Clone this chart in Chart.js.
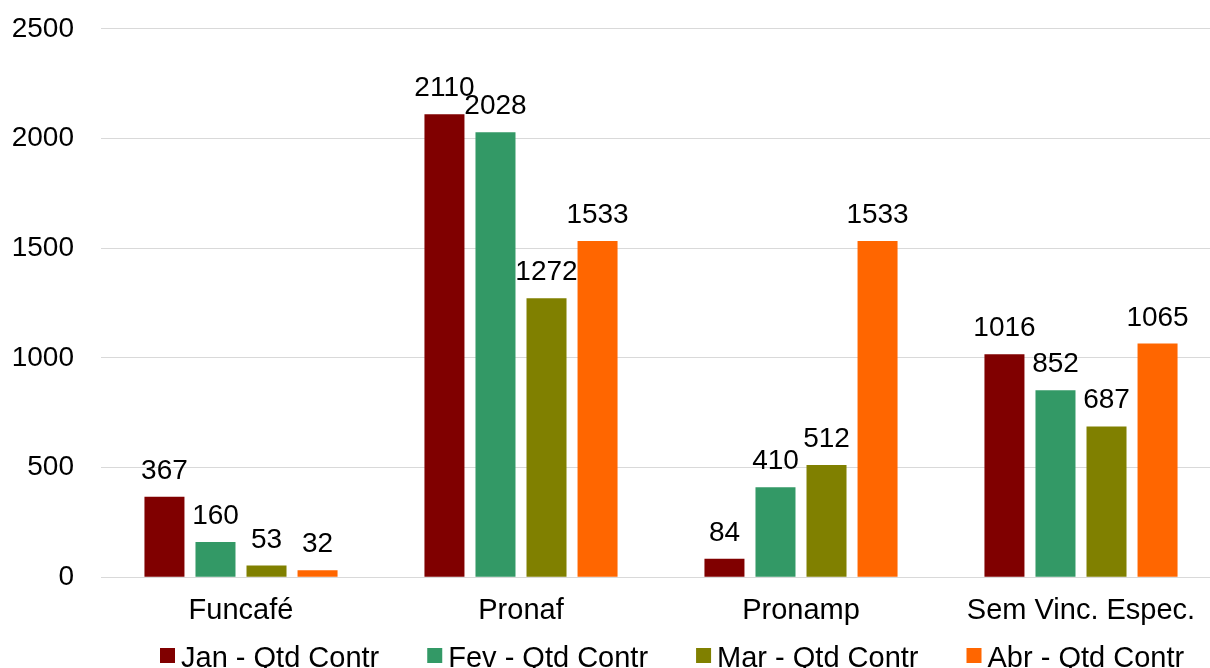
<!DOCTYPE html>
<html><head><meta charset="utf-8">
<script src="https://cdn.jsdelivr.net/npm/chart.js@4"></script>
<style>html,body{margin:0;padding:0;background:#fff;overflow:hidden;height:668px;width:1210px}#c{display:block;margin-top:-15px}</style>
</head><body>
<canvas id="c" width="1221" height="683"></canvas>
<script>
const categories = ["Funcafé", "Pronaf", "Pronamp", "Sem Vinc. Espec."];
const seriesNames = ["Jan - Qtd Contr", "Fev - Qtd Contr", "Mar - Qtd Contr", "Abr - Qtd Contr"];
const jan = [367, 2110, 84, 1016];
const fev = [160, 2028, 410, 852];
const mar = [53, 1272, 512, 687];
const abr = [32, 1533, 1533, 1065];
const colors = ["#800000", "#339966", "#808000", "#FF6600"];
const yTicks = [0, 500, 1000, 1500, 2000, 2500];

const FONT = "'Liberation Sans', Arial, sans-serif";

const labelPlugin = {
  id: 'barLabels',
  afterDatasetsDraw(chart) {
    const ctx = chart.ctx;
    ctx.save();
    ctx.font = "28px " + FONT;
    ctx.fillStyle = "#000";
    ctx.textAlign = "center";
    ctx.textBaseline = "alphabetic";
    chart.data.datasets.forEach((ds, di) => {
      const meta = chart.getDatasetMeta(di);
      meta.data.forEach((bar, i) => {
        ctx.fillText(String(ds.data[i]), bar.x, bar.y - 18);
      });
    });
    ctx.restore();
  }
};

const legendPlugin = {
  id: 'customLegend',
  afterDraw(chart) {
    const ctx = chart.ctx;
    ctx.save();
    ctx.font = "29px " + FONT;
    ctx.textBaseline = "alphabetic";
    ctx.textAlign = "left";
    const box = 15, gap = 6, spacing = 48;
    const items = chart.data.datasets.map(ds => ({ text: ds.label, color: ds.backgroundColor, w: ctx.measureText(ds.label).width }));
    let x = chart.chartArea.left + 59;
    const baseline = chart.height - 1, boxTop = chart.height - 20;
    items.forEach(it => {
      ctx.fillStyle = it.color;
      ctx.fillRect(x, boxTop, box, box);
      ctx.fillStyle = "#000";
      ctx.fillText(it.text, x + box + gap, baseline);
      x += box + gap + it.w + spacing;
    });
    ctx.restore();
  }
};

new Chart(document.getElementById('c'), {
  type: 'bar',
  data: {
    labels: categories,
    datasets: [jan, fev, mar, abr].map((d, i) => ({
      label: seriesNames[i],
      data: d,
      backgroundColor: colors[i],
      borderWidth: 0,
      categoryPercentage: 0.729,
      barPercentage: 0.784
    }))
  },
  options: {
    responsive: false,
    animation: false,
    layout: { padding: { top: 0, right: 0, left: 0, bottom: 24 } },
    plugins: {
      legend: { display: false },
      tooltip: { enabled: false }
    },
    scales: {
      x: {
        grid: { display: false, drawTicks: false },
        border: { color: '#d9d9d9', width: 1 },
        ticks: { font: { family: FONT, size: 29 }, color: '#000', padding: 16, maxRotation: 0 }
      },
      y: {
        min: 0, max: 2500,
        afterBuildTicks(axis) { axis.ticks = yTicks.map(v => ({ value: v })); },
        afterFit(axis) { axis.width = 101; },
        grid: { color: '#d9d9d9', lineWidth: 1, drawTicks: false },
        border: { display: false },
        ticks: { font: { family: FONT, size: 28 }, color: '#000', padding: 27, callback: v => String(v) }
      }
    }
  },
  plugins: [labelPlugin, legendPlugin]
});
</script>
</body></html>
